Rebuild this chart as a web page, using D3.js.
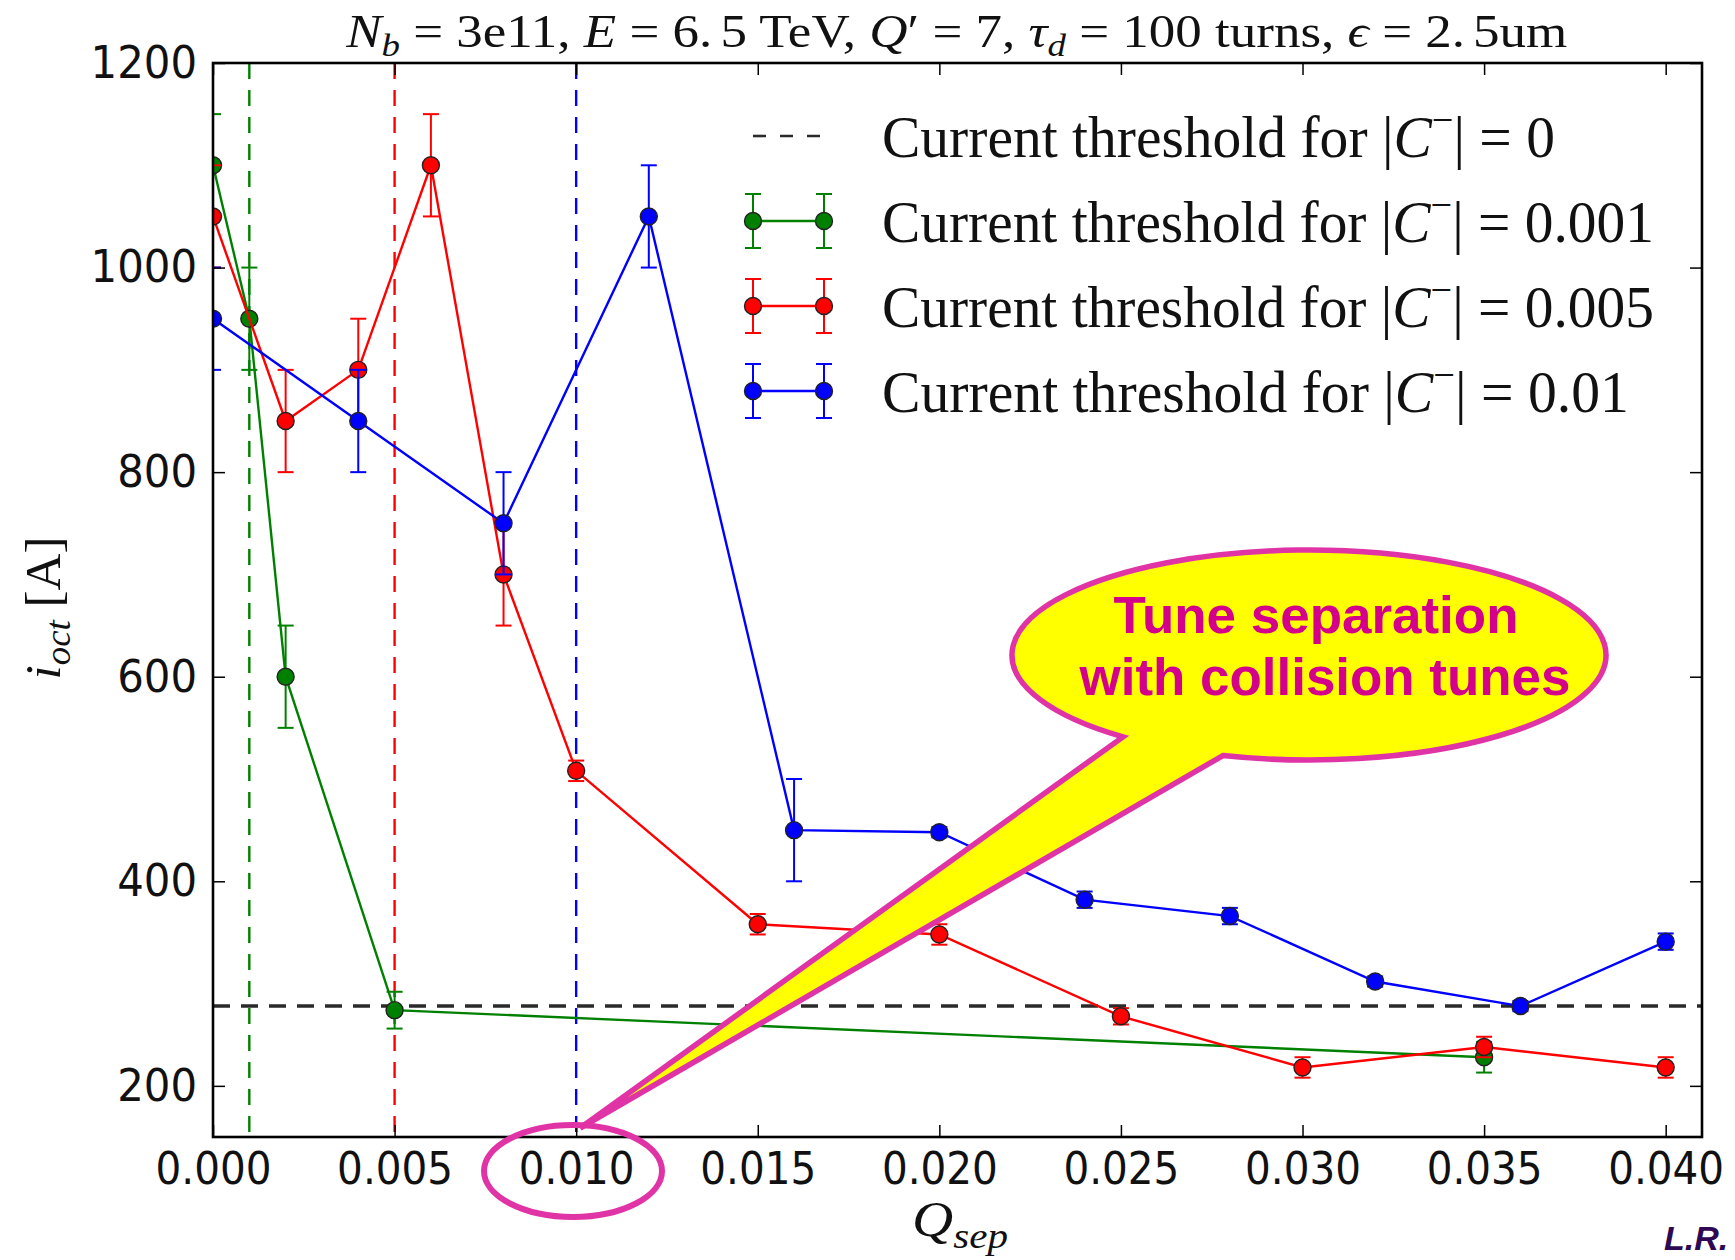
<!DOCTYPE html>
<html>
<head>
<meta charset="utf-8">
<script src="https://cdn.jsdelivr.net/npm/d3@7"></script>
<style>
  html, body { margin: 0; padding: 0; background: #fff; }
  svg { display: block; }
</style>
</head>
<body>
<svg id="chart" width="1735" height="1260"></svg>
<script>
// ---- data -------------------------------------------------------------
const xTicks = [0, 0.005, 0.010, 0.015, 0.020, 0.025, 0.030, 0.035, 0.040];
const yTicks = [200, 400, 600, 800, 1000, 1200];

// |C-| = 0 : threshold current (horizontal reference)
const thresholdC0 = 278;

// |C-| = 0.001
const qGreen = [0, 0.001, 0.002, 0.005, 0.035];
const iGreen = [1100, 950, 600, 274, 228];
const eGreen = [50, 50, 50, 18, 15];

// |C-| = 0.005
const qRed = [0, 0.002, 0.004, 0.006, 0.008, 0.010, 0.015, 0.020, 0.025, 0.030, 0.035, 0.040];
const iRed = [1050, 850, 900, 1100, 700, 508, 358, 348, 268, 218, 238, 218];
const eRed = [50, 50, 50, 50, 50, 10, 10, 10, 8, 10, 10, 10];

// |C-| = 0.01
const qBlue = [0, 0.004, 0.008, 0.012, 0.016, 0.020, 0.024, 0.028, 0.032, 0.036, 0.040];
const iBlue = [950, 850, 750, 1050, 450, 448, 382, 366, 302, 278, 341];
const eBlue = [50, 50, 50, 50, 50, 5, 8, 8, 5, 5, 8];

// coupling values marked by vertical dashed lines
const couplingMarks = [0.001, 0.005, 0.010];
const couplingColors = ["#008000", "#ff0000", "#0000ff"];

const legendValues = ["0", "0.001", "0.005", "0.01"];

// ---- layout -----------------------------------------------------------
const L = 213, R = 1702, T = 63, B = 1137;
const svg = d3.select("#chart");

const x = d3.scaleLinear().domain([0, 0.041]).range([L, R]);
const y = d3.scaleLinear().domain([150, 1200]).range([B, T]);

// stretch a text element horizontally so it spans the given width
function fitWidth(sel, width, anchor) {
  const node = sel.node();
  const bb = node.getBBox();
  const k = width / bb.width;
  const ax = anchor === "middle" ? bb.x + bb.width / 2 : (anchor === "end" ? bb.x + bb.width : bb.x);
  sel.attr("transform", `translate(${ax},0) scale(${k},1) translate(${-ax},0)`);
}

svg.append("defs").append("clipPath").attr("id", "plotClip")
  .append("rect").attr("x", L).attr("y", T).attr("width", R - L).attr("height", B - T);

const plot = svg.append("g").attr("clip-path", "url(#plotClip)");

// vertical dashed lines at the three coupling values
plot.selectAll("line.vmark").data(couplingMarks).join("line")
  .attr("class", "vmark")
  .attr("x1", d => x(d)).attr("x2", d => x(d))
  .attr("y1", T).attr("y2", B)
  .attr("stroke", (d, i) => couplingColors[i])
  .attr("stroke-width", 2.4)
  .attr("stroke-dasharray", "16,11");

// threshold for |C-| = 0
plot.append("line")
  .attr("x1", L).attr("x2", R)
  .attr("y1", y(thresholdC0)).attr("y2", y(thresholdC0))
  .attr("stroke", "#2a2a2a").attr("stroke-width", 3.4)
  .attr("stroke-dasharray", "17,11");

function drawSeries(qs, is, es, color) {
  const pts = qs.map((q, k) => ({ q, v: is[k], e: es[k] }));
  const g = plot.append("g");
  g.append("path").datum(pts)
    .attr("fill", "none").attr("stroke", color).attr("stroke-width", 2.4)
    .attr("d", d3.line().x(d => x(d.q)).y(d => y(d.v)));
  const eb = g.selectAll("g.err").data(pts).join("g").attr("class", "err")
    .attr("stroke", color).attr("stroke-width", 2);
  eb.append("line")
    .attr("x1", d => x(d.q)).attr("x2", d => x(d.q))
    .attr("y1", d => y(d.v - d.e)).attr("y2", d => y(d.v + d.e));
  eb.append("line")
    .attr("x1", d => x(d.q) - 8).attr("x2", d => x(d.q) + 8)
    .attr("y1", d => y(d.v + d.e)).attr("y2", d => y(d.v + d.e));
  eb.append("line")
    .attr("x1", d => x(d.q) - 8).attr("x2", d => x(d.q) + 8)
    .attr("y1", d => y(d.v - d.e)).attr("y2", d => y(d.v - d.e));
  g.selectAll("circle").data(pts).join("circle")
    .attr("cx", d => x(d.q)).attr("cy", d => y(d.v)).attr("r", 8.5)
    .attr("fill", color).attr("stroke", "#222").attr("stroke-width", 1.4);
}

drawSeries(qGreen, iGreen, eGreen, "#008000");
drawSeries(qRed, iRed, eRed, "#ff0000");
drawSeries(qBlue, iBlue, eBlue, "#0000ff");

// ---- axes ---------------------------------------------------------------
const tickFont = "'DejaVu Sans', sans-serif";

const xAxis = svg.append("g").attr("transform", `translate(0,${B})`)
  .call(d3.axisBottom(x).tickValues(xTicks).tickFormat(d3.format(".3f"))
    .tickSizeInner(-12).tickSizeOuter(0).tickPadding(15));
const yAxis = svg.append("g").attr("transform", `translate(${L},0)`)
  .call(d3.axisLeft(y).tickValues(yTicks).tickFormat(d3.format("d"))
    .tickSizeInner(-12).tickSizeOuter(0).tickPadding(16));
svg.append("g").attr("transform", `translate(0,${T})`)
  .call(d3.axisTop(x).tickValues(xTicks).tickFormat("").tickSizeInner(-12).tickSizeOuter(0));
svg.append("g").attr("transform", `translate(${R},0)`)
  .call(d3.axisRight(y).tickValues(yTicks).tickFormat("").tickSizeInner(-12).tickSizeOuter(0));

svg.selectAll(".domain").remove();
svg.selectAll(".tick line").attr("stroke", "#000").attr("stroke-width", 1.5);
[xAxis, yAxis].forEach(a => a.selectAll(".tick text")
  .attr("font-family", tickFont).attr("font-size", 45).attr("fill", "#111"));
xAxis.selectAll(".tick text").each(function () {
  fitWidth(d3.select(this), this.getBBox().width * 0.9, "middle");
});
yAxis.selectAll(".tick text").each(function () {
  fitWidth(d3.select(this), this.getBBox().width * 0.93, "end");
});

// frame
svg.append("rect").attr("x", L).attr("y", T).attr("width", R - L).attr("height", B - T)
  .attr("fill", "none").attr("stroke", "#000").attr("stroke-width", 2.6);

// ---- title and axis labels -------------------------------------------
const serif = "'Liberation Serif', 'DejaVu Serif', serif";

const title = svg.append("text").attr("x", 346).attr("y", 47)
  .attr("font-family", serif).attr("font-size", 46).attr("fill", "#111");
function part(t, txt, italic) {
  const s = t.append("tspan").text(txt);
  if (italic) s.attr("font-style", "italic");
  return s;
}
part(title, "N", true);
title.append("tspan").attr("font-style", "italic").attr("font-size", 32).attr("dy", 9).text("b");
title.append("tspan").attr("dy", -9).text(" = 3e11,  ");
part(title, "E", true);
title.append("tspan").text(" = 6.");
title.append("tspan").attr("dx", 7).text("5 TeV,  ");
part(title, "Q", true);
title.append("tspan").text("′ = 7, ");
part(title, "τ", true);
title.append("tspan").attr("font-style", "italic").attr("font-size", 32).attr("dy", 9).text("d");
title.append("tspan").attr("dy", -9).text(" = 100 turns,  ");
part(title, "ϵ", true);
title.append("tspan").text(" = 2.");
title.append("tspan").attr("dx", 7).text("5um");
fitWidth(title, 1223, "start");

// x label
const xl = svg.append("text").attr("x", 912).attr("y", 1236)
  .attr("font-family", serif).attr("font-size", 50).attr("fill", "#111");
xl.append("tspan").attr("font-style", "italic").text("Q");
xl.append("tspan").attr("font-style", "italic").attr("font-size", 36).attr("dy", 12).text("sep");
fitWidth(xl, 96, "start");

// y label
const ylg = svg.append("g").attr("transform", "translate(60,608) rotate(-90)");
const yl = ylg.append("text").attr("x", 0).attr("y", 0).attr("text-anchor", "middle")
  .attr("font-family", serif).attr("font-size", 50).attr("fill", "#111");
yl.append("tspan").attr("font-style", "italic").text("i");
yl.append("tspan").attr("font-style", "italic").attr("font-size", 36).attr("dy", 10).text("oct");
yl.append("tspan").attr("dy", -10).text(" [A]");
fitWidth(yl, 143, "middle");

// ---- legend -----------------------------------------------------------
const legRowY = [136, 221, 306, 391];
const legWidths = [673, 772, 772, 747];
const legColors = [null, "#008000", "#ff0000", "#0000ff"];
const hx0 = 753, hx1 = 824;
legendValues.forEach((val, i) => {
  const cy = legRowY[i];
  const g = svg.append("g");
  if (i === 0) {
    g.append("line").attr("x1", hx0).attr("x2", hx1 + 2).attr("y1", cy).attr("y2", cy)
      .attr("stroke", "#2a2a2a").attr("stroke-width", 2.6).attr("stroke-dasharray", "13,14");
  } else {
    const c = legColors[i];
    g.append("line").attr("x1", hx0).attr("x2", hx1).attr("y1", cy).attr("y2", cy)
      .attr("stroke", c).attr("stroke-width", 2.4);
    [hx0, hx1].forEach(hx => {
      g.append("line").attr("x1", hx).attr("x2", hx).attr("y1", cy - 27).attr("y2", cy + 27)
        .attr("stroke", c).attr("stroke-width", 2);
      g.append("line").attr("x1", hx - 8).attr("x2", hx + 8).attr("y1", cy - 27).attr("y2", cy - 27)
        .attr("stroke", c).attr("stroke-width", 2);
      g.append("line").attr("x1", hx - 8).attr("x2", hx + 8).attr("y1", cy + 27).attr("y2", cy + 27)
        .attr("stroke", c).attr("stroke-width", 2);
      g.append("circle").attr("cx", hx).attr("cy", cy).attr("r", 8.5)
        .attr("fill", c).attr("stroke", "#222").attr("stroke-width", 1.4);
    });
  }
  const t = g.append("text").attr("x", 882).attr("y", cy + 21)
    .attr("font-family", serif).attr("font-size", 60).attr("fill", "#111");
  t.append("tspan").text("Current threshold for ");
  t.append("tspan").text("|");
  t.append("tspan").attr("font-style", "italic").text("C");
  t.append("tspan").attr("font-size", 40).attr("dy", -24).text("−");
  t.append("tspan").attr("dy", 24).text("|");
  t.append("tspan").text(" = " + val);
  fitWidth(t, legWidths[i], "start");
});

// ---- callout ----------------------------------------------------------
const magenta = "#e033a6";
const ecx = 1309, ecy = 655, erx = 297, ery = 105;
const ax = 1123, bx = 1223;
const ay = ecy + ery * Math.sqrt(1 - ((ax - ecx) / erx) ** 2);
const by = ecy + ery * Math.sqrt(1 - ((bx - ecx) / erx) ** 2);
const tipX = x(0.010) + 4, tipY = 1128;
svg.append("path")
  .attr("d", `M${ax},${ay} A${erx},${ery} 0 1 1 ${bx},${by} L${tipX},${tipY} Z`)
  .attr("fill", "#ffff00").attr("stroke", magenta).attr("stroke-width", 5.5)
  .attr("stroke-linejoin", "miter");

const cFont = "'Liberation Sans', Arial, sans-serif";
const c1 = svg.append("text").attr("x", 1316).attr("y", 633).attr("text-anchor", "middle")
  .attr("font-family", cFont).attr("font-weight", "bold").attr("font-size", 52)
  .attr("fill", "#d4008c").text("Tune separation");
fitWidth(c1, 405, "middle");
const c2 = svg.append("text").attr("x", 1325).attr("y", 695).attr("text-anchor", "middle")
  .attr("font-family", cFont).attr("font-weight", "bold").attr("font-size", 52)
  .attr("fill", "#d4008c").text("with collision tunes");
fitWidth(c2, 492, "middle");

// ring around the 0.010 tick label
svg.append("ellipse").attr("cx", 573).attr("cy", 1171).attr("rx", 89).attr("ry", 46)
  .attr("fill", "none").attr("stroke", magenta).attr("stroke-width", 6);

// author tag
svg.append("text").attr("x", 1664).attr("y", 1250)
  .attr("font-family", cFont).attr("font-weight", "bold").attr("font-style", "italic")
  .attr("font-size", 34).attr("fill", "#2e0854").text("L.R.");
</script>
</body>
</html>
